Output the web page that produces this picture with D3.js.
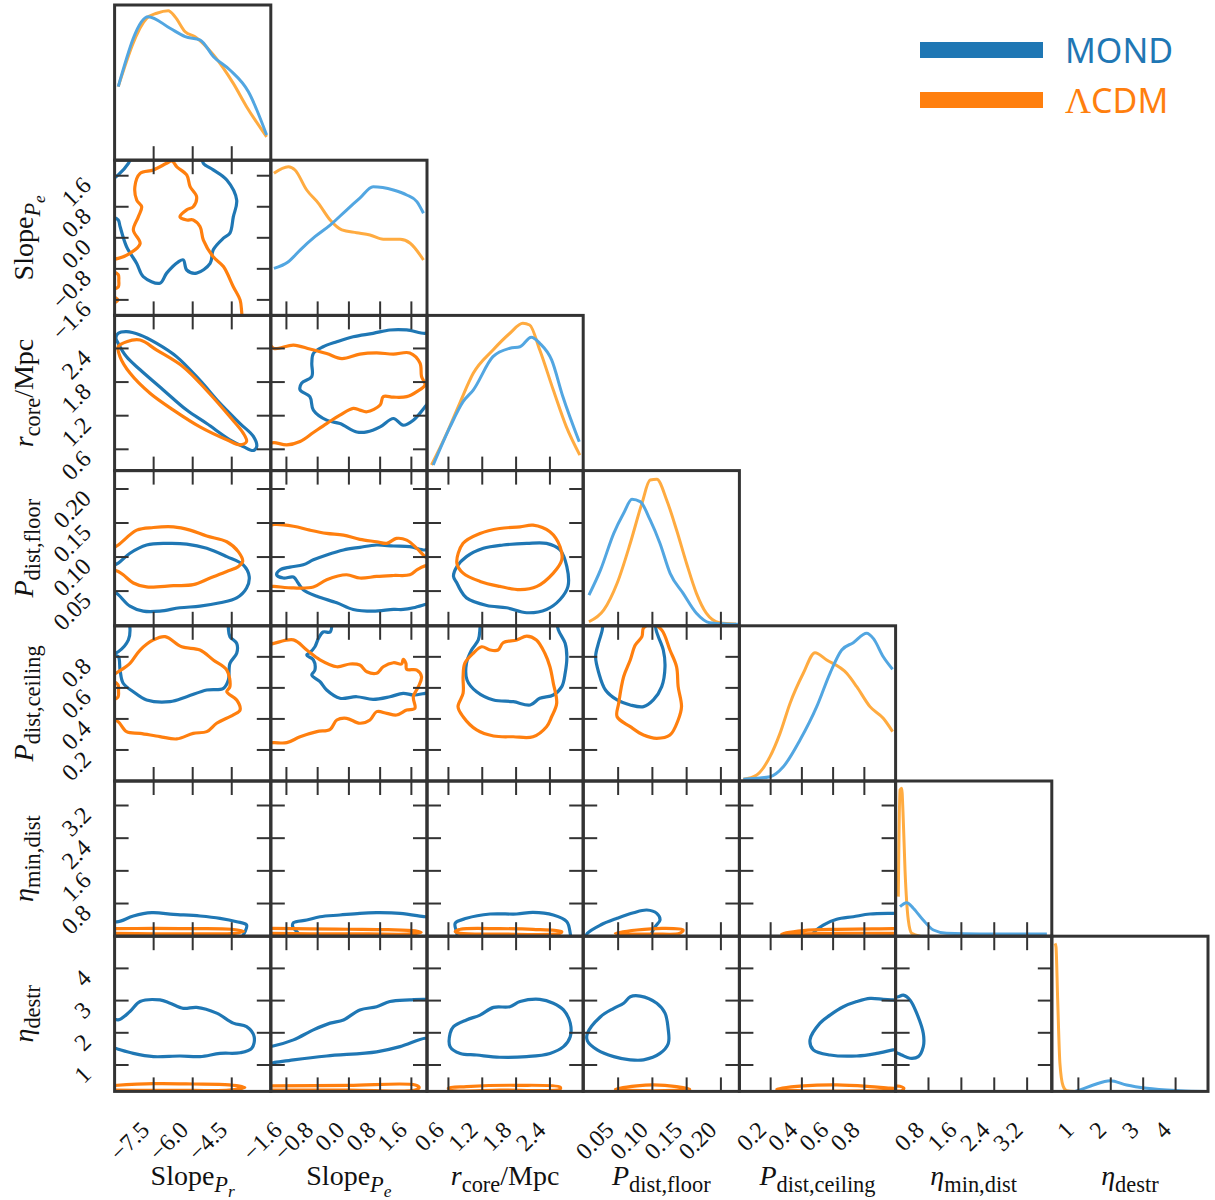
<!DOCTYPE html>
<html><head><meta charset="utf-8">
<script src="https://cdn.jsdelivr.net/npm/d3@7"></script>
<style>body{margin:0;background:#fff}</style>
</head><body><svg id="c" width="1215" height="1200"></svg>
<script>
// ---------------- DATA ----------------
const paramRanges = [[-9,-3],[-2,2],[0.22,2.99],[-0.001,0.227],[0,1],[0,3.8],[0.18,5.0]];
const paramTicks = [[-7.5,-6.0,-4.5],[-1.6,-0.8,0,0.8,1.6],[0.6,1.2,1.8,2.4],[0.05,0.10,0.15,0.20],[0.2,0.4,0.6,0.8],[0.8,1.6,2.4,3.2],[1,2,3,4]];
const tickLabels = [["−7.5","−6.0","−4.5"],["−1.6","−0.8","0.0","0.8","1.6"],["0.6","1.2","1.8","2.4"],["0.05","0.10","0.15","0.20"],["0.2","0.4","0.6","0.8"],["0.8","1.6","2.4","3.2"],["1","2","3","4"]];
const seriesNames = ["MOND","ΛCDM"];

// 1D marginal densities (relative units) [value, density]
const mondDiag0 = [[-8.86,0.474],[-7.71,0.925],[-6.87,0.85],[-6.29,0.796],[-5.71,0.774],[-5.20,0.667],[-4.57,0.581],[-3.86,0.441],[-3.16,0.162]];
const lcdmDiag0 = [[-8.86,0.474],[-7.77,0.914],[-7.38,0.947],[-6.94,0.963],[-6.68,0.925],[-6.29,0.828],[-5.91,0.796],[-5.20,0.678],[-4.44,0.495],[-3.93,0.345],[-3.16,0.151]];
const mondDiag1 = [[-1.92,0.303],[-1.55,0.346],[-1.25,0.421],[-0.87,0.507],[-0.48,0.582],[-0.06,0.679],[0.28,0.755],[0.62,0.829],[1.14,0.808],[1.48,0.776],[1.74,0.733],[1.91,0.658]];
const lcdmDiag1 = [[-1.92,0.916],[-1.55,0.958],[-1.38,0.937],[-1.08,0.808],[-0.78,0.722],[-0.48,0.615],[-0.18,0.551],[0.20,0.533],[0.54,0.518],[0.88,0.49],[1.31,0.49],[1.57,0.465],[1.91,0.357]];
const mondDiag2 = [[0.33,0.036],[0.63,0.283],[0.86,0.444],[1.04,0.519],[1.39,0.734],[1.69,0.788],[1.87,0.798],[2.07,0.859],[2.22,0.82],[2.43,0.713],[2.63,0.476],[2.92,0.186]];
const lcdmDiag2 = [[0.30,0.036],[0.57,0.24],[0.80,0.434],[1.04,0.627],[1.39,0.777],[1.69,0.885],[1.92,0.949],[2.04,0.938],[2.22,0.777],[2.46,0.519],[2.69,0.283],[2.93,0.10]];
const mondDiag3 = [[0.0074,0.198],[0.0243,0.36],[0.0436,0.596],[0.058,0.725],[0.0702,0.815],[0.0822,0.80],[0.0967,0.682],[0.111,0.532],[0.1259,0.338],[0.1449,0.209],[0.1643,0.081],[0.1835,0.02],[0.2077,0.012],[0.225,0.01]];
const lcdmDiag3 = [[0.0074,0.026],[0.0291,0.102],[0.0485,0.274],[0.0677,0.532],[0.0847,0.789],[0.0967,0.939],[0.1064,0.944],[0.1208,0.811],[0.1353,0.617],[0.1498,0.403],[0.1643,0.209],[0.1787,0.081],[0.198,0.02],[0.2221,0.012]];
const mondDiag4 = [[0.025,0.011],[0.196,0.028],[0.281,0.092],[0.388,0.264],[0.495,0.479],[0.58,0.694],[0.655,0.844],[0.729,0.891],[0.815,0.952],[0.857,0.919],[0.921,0.801],[0.981,0.72]];
const lcdmDiag4 = [[0.025,0.011],[0.111,0.039],[0.196,0.157],[0.26,0.307],[0.324,0.50],[0.409,0.694],[0.484,0.827],[0.559,0.78],[0.687,0.694],[0.751,0.608],[0.836,0.479],[0.921,0.404],[0.981,0.318]];
const mondDiag5 = [[0.107,0.19],[0.27,0.216],[0.43,0.18],[0.67,0.104],[0.92,0.04],[1.24,0.019],[2.05,0.014],[3.68,0.014]];
const lcdmDiag5 = [[0.066,0.255],[0.107,0.942],[0.148,0.953],[0.18,0.8],[0.229,0.427],[0.309,0.104],[0.39,0.019],[0.6,0.0]];
const mondDiag6 = [[0.9,0.0],[1.05,0.009],[1.46,0.041],[1.98,0.069],[2.49,0.041],[3.11,0.02],[4.14,0.005],[4.95,0.0]];
const lcdmDiag6 = [[0.28,0.954],[0.31,0.93],[0.36,0.6],[0.43,0.182],[0.53,0.034],[0.64,0.005],[0.9,0.0]];

// 2D credible contours: lists of pieces, each piece a list of [x value, y value]
const c10_mond = [[[-5.65,2.1],[-5.59,1.92],[-5.21,1.75],[-4.69,1.49],[-4.31,0.97],[-4.44,0.54],[-4.57,0.12],[-4.82,-0.01],[-5.21,-0.31],[-5.33,-0.66],[-5.85,-0.91],[-6.23,-0.83],[-6.36,-0.57],[-6.55,-0.62],[-7.0,-0.91],[-7.26,-1.17],[-7.90,-1.0],[-8.15,-0.66],[-8.54,-0.23],[-8.79,0.29],[-8.86,0.46],[-9.1,0.55]],
  [[-9.1,1.5],[-8.86,1.62],[-8.47,1.92],[-8.35,2.1]]];
const c10_lcdm = [[[-9.1,-0.55],[-8.86,-0.53],[-8.41,-0.40],[-8.02,-0.15],[-8.28,0.20],[-8.09,0.54],[-7.96,0.80],[-8.15,0.97],[-8.22,1.32],[-8.02,1.66],[-7.51,1.75],[-7.0,1.92],[-6.8,1.98],[-6.61,1.83],[-6.23,1.62],[-6.10,1.32],[-5.85,1.06],[-5.98,0.80],[-6.23,0.72],[-6.49,0.54],[-6.23,0.46],[-5.98,0.46],[-5.72,0.29],[-5.59,-0.06],[-5.21,-0.49],[-4.82,-0.74],[-4.44,-1.26],[-4.18,-1.60],[-4.12,-1.90],[-4.1,-2.1]],
  [[-9.1,-0.85],[-8.86,-0.95],[-8.84,-1.1],[-8.86,-1.27],[-9.1,-1.33]],
  [[-9.1,-1.5],[-8.87,-1.6],[-9.1,-1.7]]];
const c20_mond = [[[-8.86,2.67],[-8.54,2.70],[-8.02,2.64],[-7.38,2.49],[-6.61,2.25],[-5.72,1.83],[-4.95,1.42],[-4.18,1.06],[-3.67,0.83],[-3.54,0.65],[-3.67,0.58],[-4.06,0.65],[-4.57,0.77],[-5.46,1.06],[-6.23,1.30],[-7.13,1.66],[-8.02,2.02],[-8.54,2.25],[-8.86,2.49],[-8.95,2.59]]];
const c20_lcdm = [[[-8.86,2.43],[-8.54,2.52],[-8.02,2.55],[-7.38,2.37],[-6.36,2.07],[-5.46,1.65],[-4.57,1.18],[-4.06,0.89],[-3.93,0.74],[-4.18,0.68],[-4.69,0.77],[-5.72,1.0],[-6.74,1.30],[-7.64,1.60],[-8.41,1.96],[-8.79,2.25]]];
const c30_mond = [[[-9.1,0.087],[-8.86,0.091],[-8.41,0.1056],[-7.77,0.1177],[-7.0,0.1201],[-6.23,0.1191],[-5.46,0.1129],[-4.69,0.1006],[-4.06,0.0885],[-3.83,0.0715],[-3.93,0.0546],[-4.31,0.04],[-4.95,0.0328],[-5.72,0.0278],[-6.49,0.0255],[-7.26,0.0205],[-7.90,0.0205],[-8.41,0.0278],[-8.86,0.0448],[-9.1,0.052]]];
const c30_lcdm = [[[-9.1,0.112],[-8.86,0.1177],[-8.15,0.1395],[-7.51,0.1434],[-6.74,0.1443],[-6.10,0.1395],[-5.46,0.1308],[-4.69,0.1225],[-4.25,0.1079],[-4.08,0.0933],[-4.25,0.086],[-4.69,0.0788],[-5.33,0.0692],[-5.98,0.0594],[-6.74,0.058],[-7.77,0.0561],[-8.28,0.0619],[-8.67,0.074],[-8.86,0.0788],[-9.1,0.082]]];
const c40_mond = [[[-9.1,0.81],[-8.86,0.801],[-8.79,0.715],[-8.67,0.63],[-8.28,0.575],[-7.77,0.522],[-6.87,0.511],[-6.23,0.543],[-5.46,0.586],[-4.82,0.597],[-4.63,0.651],[-4.57,0.758],[-4.31,0.823],[-4.31,0.887],[-4.57,0.93],[-4.63,0.984],[-4.62,1.05]],
  [[-8.5,1.05],[-8.41,0.984],[-8.47,0.909],[-8.86,0.833],[-9.1,0.82]]];
const c40_lcdm = [[[-9.1,0.68],[-8.86,0.704],[-8.41,0.758],[-8.02,0.844],[-7.51,0.909],[-7.06,0.93],[-6.42,0.865],[-5.72,0.844],[-5.21,0.78],[-4.69,0.715],[-4.57,0.608],[-4.69,0.575],[-4.31,0.522],[-4.18,0.458],[-4.44,0.426],[-5.08,0.372],[-5.46,0.318],[-5.98,0.307],[-6.61,0.271],[-7.26,0.286],[-8.02,0.307],[-8.54,0.318],[-8.86,0.382],[-9.1,0.40]],
  [[-9.1,0.65],[-8.87,0.62],[-8.85,0.58],[-8.87,0.54],[-9.1,0.52]]];
const c50_mond = [[[-9.1,0.37],[-8.86,0.355],[-8.28,0.494],[-7.57,0.575],[-6.74,0.536],[-5.72,0.494],[-4.95,0.438],[-4.31,0.355],[-3.93,0.274],[-3.99,0.11],[-4.06,0.029],[-4.1,-0.05]]];
const c50_lcdm = [[[-9.1,0.185],[-7.5,0.19],[-6.0,0.185],[-4.5,0.17],[-4.05,0.12],[-4.4,0.07],[-6.0,0.06],[-7.5,0.06],[-9.1,0.07]]];
const c60_mond = [[[-9.1,2.48],[-8.86,2.40],[-8.41,2.66],[-8.02,2.97],[-7.26,3.02],[-6.87,2.92],[-6.36,2.76],[-5.85,2.79],[-5.08,2.61],[-4.44,2.30],[-3.93,2.19],[-3.64,1.88],[-3.73,1.52],[-4.18,1.38],[-4.95,1.36],[-5.72,1.26],[-6.49,1.28],[-7.51,1.26],[-8.28,1.36],[-8.86,1.49],[-9.1,1.55]]];
const c60_lcdm = [[[-9.1,0.36],[-7.5,0.42],[-6.0,0.41],[-4.6,0.38],[-4.0,0.30],[-4.6,0.22],[-6.0,0.21],[-7.5,0.21],[-9.1,0.22]]];
const c21_mond = [[[2.05,2.70],[1.95,2.67],[1.48,2.73],[1.05,2.73],[0.62,2.67],[0.11,2.61],[-0.31,2.52],[-0.66,2.43],[-0.91,2.31],[-0.95,2.14],[-0.95,1.90],[-1.21,1.78],[-1.25,1.66],[-1.0,1.54],[-0.91,1.30],[-0.57,1.12],[-0.23,1.06],[0.20,0.91],[0.46,0.91],[0.80,1.0],[1.14,1.15],[1.39,1.03],[1.65,1.12],[1.95,1.36],[2.05,1.45]]];
const c21_lcdm = [[[-2.05,2.51],[-1.92,2.40],[-1.42,2.46],[-1.0,2.39],[-0.57,2.31],[-0.18,2.22],[0.28,2.30],[0.71,2.32],[1.14,2.30],[1.56,2.32],[1.82,2.14],[1.86,1.90],[1.95,1.75],[1.74,1.63],[1.48,1.54],[1.14,1.53],[0.88,1.54],[0.80,1.39],[0.46,1.27],[0.28,1.30],[0.11,1.33],[-0.23,1.21],[-0.57,1.06],[-0.91,0.90],[-1.25,0.74],[-1.59,0.68],[-1.92,0.72],[-2.05,0.70]]];
const c31_mond = [[[2.05,0.113],[1.95,0.1104],[1.56,0.1152],[1.14,0.1162],[0.71,0.1177],[0.28,0.1143],[-0.14,0.1104],[-0.57,0.1031],[-0.91,0.0959],[-1.17,0.0886],[-1.51,0.0852],[-1.76,0.0813],[-1.85,0.074],[-1.68,0.0692],[-1.42,0.0706],[-1.30,0.0619],[-1.17,0.0521],[-0.82,0.0424],[-0.31,0.0328],[0.11,0.023],[0.62,0.0205],[1.14,0.023],[1.39,0.023],[1.65,0.0255],[1.95,0.0303],[2.05,0.032]]];
const c31_lcdm = [[[-2.05,0.145],[-1.92,0.1478],[-1.42,0.1453],[-1.0,0.1395],[-0.57,0.1347],[-0.14,0.1322],[0.28,0.126],[0.71,0.1225],[0.97,0.1201],[1.22,0.1274],[1.48,0.1249],[1.74,0.1128],[1.95,0.1006],[2.1,0.095],[2.1,0.088],[1.95,0.087],[1.74,0.0812],[1.56,0.0739],[1.14,0.0729],[0.71,0.0715],[0.28,0.0692],[-0.06,0.074],[-0.57,0.0667],[-0.91,0.056],[-1.42,0.0546],[-1.92,0.0569],[-2.05,0.057]]];
const c32_mond = [[[0.69,0.0715],[0.75,0.086],[0.92,0.1006],[1.22,0.1128],[1.57,0.1177],[1.99,0.1201],[2.34,0.1201],[2.58,0.1104],[2.70,0.086],[2.72,0.0569],[2.58,0.0376],[2.34,0.023],[1.99,0.0182],[1.63,0.0255],[1.28,0.0288],[0.92,0.04],[0.81,0.0521],[0.75,0.0619]]];
const c32_lcdm = [[[0.75,0.091],[0.86,0.1201],[1.16,0.1347],[1.51,0.142],[1.87,0.1443],[2.10,0.1468],[2.40,0.137],[2.58,0.1152],[2.61,0.0958],[2.46,0.0764],[2.17,0.0569],[1.87,0.0521],[1.51,0.0569],[1.16,0.0642],[0.86,0.0764]]];
const c41_mond = [[[-0.44,1.05],[-0.48,0.96],[-0.66,0.96],[-0.78,0.919],[-0.87,0.865],[-1.0,0.827],[-1.08,0.812],[-0.91,0.78],[-0.87,0.715],[-0.95,0.683],[-0.74,0.64],[-0.57,0.586],[-0.23,0.533],[0.20,0.543],[0.62,0.526],[1.05,0.543],[1.39,0.565],[1.65,0.554],[1.95,0.565],[2.05,0.57]]];
const c41_lcdm = [[[-2.05,0.88],[-1.92,0.887],[-1.42,0.909],[-1.08,0.844],[-0.74,0.78],[-0.31,0.736],[0.03,0.754],[0.28,0.747],[0.46,0.704],[0.71,0.694],[0.88,0.736],[1.14,0.762],[1.35,0.754],[1.39,0.784],[1.46,0.758],[1.48,0.72],[1.74,0.715],[1.86,0.672],[1.78,0.608],[1.65,0.543],[1.69,0.468],[1.48,0.457],[1.22,0.425],[0.97,0.436],[0.71,0.447],[0.54,0.393],[0.28,0.372],[-0.06,0.404],[-0.31,0.393],[-0.48,0.333],[-0.82,0.318],[-1.25,0.285],[-1.59,0.247],[-1.92,0.247],[-2.05,0.245]]];
const c42_mond = [[[1.17,1.05],[1.16,0.984],[1.13,0.909],[1.01,0.844],[0.92,0.758],[0.93,0.651],[1.10,0.575],[1.40,0.522],[1.75,0.511],[2.05,0.49],[2.22,0.533],[2.46,0.554],[2.61,0.608],[2.67,0.694],[2.70,0.801],[2.67,0.887],[2.55,0.973],[2.51,1.05]]];
const c42_lcdm = [[[0.86,0.672],[0.89,0.758],[1.04,0.823],[1.19,0.865],[1.34,0.844],[1.48,0.844],[1.57,0.891],[1.81,0.909],[1.99,0.934],[2.16,0.909],[2.31,0.823],[2.40,0.736],[2.46,0.63],[2.52,0.501],[2.43,0.414],[2.34,0.35],[2.10,0.285],[1.75,0.285],[1.40,0.29],[1.10,0.329],[0.86,0.414],[0.77,0.479],[0.86,0.565]]];
const c43_mond = [[[0.028,1.05],[0.0268,0.973],[0.0219,0.898],[0.0171,0.801],[0.0219,0.694],[0.0315,0.586],[0.0485,0.522],[0.0677,0.49],[0.087,0.479],[0.1014,0.522],[0.1136,0.608],[0.1184,0.736],[0.1159,0.844],[0.1087,0.93],[0.1054,0.973],[0.104,1.05]]];
const c43_lcdm = [[[0.0485,0.414],[0.0508,0.501],[0.058,0.672],[0.0677,0.78],[0.075,0.876],[0.0847,0.93],[0.087,0.986],[0.0996,1.012],[0.1136,0.973],[0.1256,0.844],[0.1353,0.736],[0.1376,0.608],[0.1425,0.479],[0.1376,0.393],[0.1256,0.296],[0.1064,0.275],[0.087,0.296],[0.0677,0.35]]];
const c51_mond = [[[-1.25,-0.05],[-1.30,0.071],[-1.44,0.232],[-1.42,0.33],[-1.08,0.396],[-0.74,0.477],[-0.23,0.519],[0.28,0.561],[0.71,0.575],[1.31,0.561],[1.95,0.477],[2.05,0.47]]];
const c51_lcdm = [[[-2.05,0.19],[-1.0,0.18],[0.0,0.17],[1.0,0.16],[1.7,0.13],[1.85,0.09],[1.6,0.055],[0.5,0.055],[-1.0,0.06],[-2.05,0.07]]];
const c52_mond = [[[0.76,-0.05],[0.75,0.071],[0.72,0.316],[0.92,0.438],[1.34,0.543],[1.81,0.543],[2.10,0.585],[2.46,0.519],[2.70,0.355],[2.76,0.071],[2.77,-0.05]]];
const c52_lcdm = [[[0.72,0.11],[0.81,0.169],[1.51,0.184],[2.10,0.169],[2.61,0.11],[2.58,0.071],[1.51,0.054],[0.81,0.071]]];
const c53_mond = [[[0.002,-0.05],[0.0051,0.071],[0.0243,0.274],[0.0485,0.438],[0.0725,0.575],[0.0919,0.641],[0.1064,0.56],[0.1111,0.396],[0.1039,0.232],[0.0991,0.071],[0.098,-0.05]]];
const c53_lcdm = [[[0.046,0.071],[0.0774,0.152],[0.1159,0.193],[0.1449,0.152],[0.1401,0.071],[0.1014,0.054],[0.0533,0.054]]];
const c54_mond = [[[0.47,-0.05],[0.473,0.071],[0.537,0.274],[0.623,0.414],[0.729,0.477],[0.836,0.543],[0.985,0.561],[1.02,0.565]]];
const c54_lcdm = [[[1.02,0.19],[0.985,0.184],[0.623,0.169],[0.409,0.135],[0.271,0.054],[0.409,0.06],[0.623,0.071],[0.985,0.071],[1.02,0.07]]];
const c61_mond = [[[-2.05,1.57],[-1.94,1.59],[-1.42,1.78],[-0.91,2.09],[-0.48,2.30],[-0.14,2.40],[0.28,2.71],[0.71,2.81],[1.05,2.97],[1.56,3.02],[1.95,3.04],[2.1,3.0],[2.1,1.8],[1.95,1.83],[1.31,1.57],[0.71,1.41],[-0.57,1.28],[-1.42,1.16],[-1.94,1.07],[-2.05,1.06]]];
const c61_lcdm = [[[-2.05,0.35],[0.0,0.37],[1.7,0.38],[1.8,0.3],[1.7,0.22],[0.0,0.22],[-2.05,0.22]]];
const c62_mond = [[[0.63,1.98],[0.69,2.19],[0.92,2.40],[1.16,2.55],[1.40,2.79],[1.69,2.81],[1.87,2.97],[2.22,3.04],[2.46,2.92],[2.64,2.71],[2.76,2.30],[2.76,1.88],[2.64,1.57],[2.40,1.36],[1.99,1.26],[1.51,1.24],[1.10,1.31],[0.81,1.36],[0.63,1.57]]];
const c62_lcdm = [[[0.60,0.28],[0.92,0.33],[1.81,0.37],[2.58,0.31],[2.58,0.25],[1.51,0.22],[0.63,0.22]]];
const c63_mond = [[[0.0051,1.98],[0.0243,2.50],[0.0436,2.76],[0.058,2.92],[0.0677,3.12],[0.0822,3.14],[0.1064,2.92],[0.1184,2.61],[0.1232,2.09],[0.1232,1.67],[0.1111,1.36],[0.087,1.16],[0.0677,1.16],[0.0436,1.26],[0.0195,1.47],[0.0051,1.75]]];
const c63_lcdm = [[[0.046,0.25],[0.0774,0.35],[0.1014,0.38],[0.1353,0.33],[0.1546,0.25],[0.1014,0.20]]];
const c64_mond = [[[1.02,3.0],[0.985,3.02],[0.921,3.04],[0.836,3.07],[0.751,2.97],[0.665,2.81],[0.58,2.55],[0.516,2.30],[0.452,1.78],[0.473,1.47],[0.58,1.31],[0.751,1.28],[0.879,1.36],[0.985,1.47],[1.02,1.49]]];
const c64_lcdm = [[[1.02,0.28],[0.964,0.28],[0.836,0.33],[0.623,0.38],[0.409,0.35],[0.239,0.25],[0.409,0.2],[0.964,0.2],[1.02,0.2]]];
const c65_mond = [[[-0.05,3.1],[0.066,3.12],[0.187,3.17],[0.35,3.02],[0.513,2.61],[0.674,1.98],[0.674,1.57],[0.552,1.26],[0.35,1.21],[0.148,1.31],[0.066,1.36],[-0.05,1.4]]];
const c65_lcdm = [[[-0.05,0.35],[0.1,0.34],[0.2,0.28],[0.15,0.2],[-0.05,0.2]]];

// ---------------- LAYOUT ----------------
const gridLeft = 114.6, gridTop = 5, cellW = 156.2, cellH = 155.2, N = 7;
const mondColor = "#1f77b4", lcdmColor = "#ff7f0e";
const mondLight = "#52a6e1", lcdmLight = "#ffab40";
const frameColor = "#333333";

const diagData = [[mondDiag0,lcdmDiag0],[mondDiag1,lcdmDiag1],[mondDiag2,lcdmDiag2],[mondDiag3,lcdmDiag3],[mondDiag4,lcdmDiag4],[mondDiag5,lcdmDiag5],[mondDiag6,lcdmDiag6]];
const contours = {
 "1,0":[c10_mond,c10_lcdm],"2,0":[c20_mond,c20_lcdm],"3,0":[c30_mond,c30_lcdm],"4,0":[c40_mond,c40_lcdm],"5,0":[c50_mond,c50_lcdm],"6,0":[c60_mond,c60_lcdm],
 "2,1":[c21_mond,c21_lcdm],"3,1":[c31_mond,c31_lcdm],"4,1":[c41_mond,c41_lcdm],"5,1":[c51_mond,c51_lcdm],"6,1":[c61_mond,c61_lcdm],
 "3,2":[c32_mond,c32_lcdm],"4,2":[c42_mond,c42_lcdm],"5,2":[c52_mond,c52_lcdm],"6,2":[c62_mond,c62_lcdm],
 "4,3":[c43_mond,c43_lcdm],"5,3":[c53_mond,c53_lcdm],"6,3":[c63_mond,c63_lcdm],
 "5,4":[c54_mond,c54_lcdm],"6,4":[c64_mond,c64_lcdm],"6,5":[c65_mond,c65_lcdm]
};

const svg = d3.select("#c");
const xs = paramRanges.map((r,j)=>d3.scaleLinear().domain(r).range([gridLeft+j*cellW, gridLeft+(j+1)*cellW]));
const ys = paramRanges.map((r,i)=>d3.scaleLinear().domain(r).range([gridTop+(i+1)*cellH, gridTop+i*cellH]));
const defs = svg.append("defs");
const plotLayer = svg.append("g");
const axisLayer = svg.append("g");

function clipFor(i,j){
  const id = `clip${i}_${j}`;
  defs.append("clipPath").attr("id",id).append("rect")
    .attr("x",gridLeft+j*cellW).attr("y",gridTop+i*cellH).attr("width",cellW).attr("height",cellH);
  return `url(#${id})`;
}

for(let i=0;i<N;i++){
  for(let j=0;j<=i;j++){
    const x0 = gridLeft+j*cellW, y0 = gridTop+i*cellH;
    const g = plotLayer.append("g").attr("clip-path", clipFor(i,j));
    const xsc = xs[j];
    if(i===j){
      const yd = d3.scaleLinear().domain([0,1]).range([y0+cellH, y0]);
      const line = d3.line().x(d=>xsc(d[0])).y(d=>yd(d[1])).curve(d3.curveMonotoneX);
      const [m,l] = diagData[i];
      g.append("path").attr("d",line(l)).attr("fill","none").attr("stroke",lcdmLight).attr("stroke-width",3);
      g.append("path").attr("d",line(m)).attr("fill","none").attr("stroke",mondLight).attr("stroke-width",3);
    } else {
      const ysc = ys[i];
      const dx = paramRanges[j], dy = paramRanges[i];
      const [m,l] = contours[`${i},${j}`];
      [[m,mondColor],[l,lcdmColor]].forEach(([pieces,col])=>{
        pieces.forEach(p=>{
          const inside = p[0][0]>=dx[0] && p[0][0]<=dx[1] && p[0][1]>=dy[0] && p[0][1]<=dy[1];
          const curve = inside ? d3.curveCatmullRomClosed.alpha(0.5) : d3.curveCatmullRom.alpha(0.5);
          const line = d3.line().x(d=>xsc(d[0])).y(d=>ysc(d[1])).curve(curve);
          g.append("path").attr("d",line(p)).attr("fill","none").attr("stroke",col)
            .attr("stroke-width",3.2).attr("stroke-linejoin","round");
        });
      });
    }
    // ticks
    const tl = 14;
    const tg = axisLayer.append("g").attr("stroke",frameColor).attr("stroke-width",2);
    paramTicks[j].forEach(t=>{
      const x = xsc(t);
      tg.append("line").attr("x1",x).attr("x2",x).attr("y1",y0+cellH).attr("y2",y0+cellH-tl);
      if(i!==j) tg.append("line").attr("x1",x).attr("x2",x).attr("y1",y0).attr("y2",y0+tl);
    });
    if(i!==j){
      paramTicks[i].forEach(t=>{
        const y = ys[i](t);
        tg.append("line").attr("x1",x0).attr("x2",x0+tl).attr("y1",y).attr("y2",y);
        tg.append("line").attr("x1",x0+cellW).attr("x2",x0+cellW-tl).attr("y1",y).attr("y2",y);
      });
    }
    axisLayer.append("rect").attr("x",x0).attr("y",y0).attr("width",cellW).attr("height",cellH)
      .attr("fill","none").attr("stroke",frameColor).attr("stroke-width",3);
  }
}

// tick labels
const tickFont = "'Liberation Serif', 'DejaVu Serif', serif";
const tickSize = 24;
const bottomY = gridTop + N*cellH;
for(let j=0;j<N;j++){
  paramTicks[j].forEach((t,k)=>{
    const px = xs[j](t) - 3, py = bottomY + 40;
    svg.append("text").attr("x",px).attr("y",py).attr("text-anchor","end")
      .attr("transform",`rotate(-45 ${px} ${py})`)
      .attr("font-family",tickFont).attr("font-size",tickSize).attr("fill","#111").text(tickLabels[j][k]);
  });
}
for(let i=1;i<N;i++){
  paramTicks[i].forEach((t,k)=>{
    const px = gridLeft - 22, py = ys[i](t) + 11;
    svg.append("text").attr("x",px).attr("y",py).attr("text-anchor","end")
      .attr("transform",`rotate(-45 ${px} ${py})`)
      .attr("font-family",tickFont).attr("font-size",tickSize).attr("fill","#111").text(tickLabels[i][k]);
  });
}

// axis titles: [text, italic, level]
const axisTitles = [
  [["Slope",false,0],["P",true,1],["r",true,2]],
  [["Slope",false,0],["P",true,1],["e",true,2]],
  [["r",true,0],["core",false,1],["/Mpc",false,0]],
  [["P",true,0],["dist,floor",false,1]],
  [["P",true,0],["dist,ceiling",false,1]],
  [["η",true,0],["min,dist",false,1]],
  [["η",true,0],["destr",false,1]]
];
const titleSize = 28;
const levelSize = [titleSize, titleSize*0.8, titleSize*0.62];
const levelShift = [0, 7, 12];
function writeTitle(sel, parts){
  let cur = 0;
  parts.forEach(([txt,ital,lvl])=>{
    const dy = levelShift[lvl]-levelShift[cur];
    sel.append("tspan").attr("dy",dy).attr("font-size",levelSize[lvl])
      .attr("font-style",ital?"italic":"normal").text(txt);
    cur = lvl;
  });
}
for(let j=0;j<N;j++){
  const cx = gridLeft + (j+0.5)*cellW;
  const t = svg.append("text").attr("x",cx).attr("y",1185).attr("text-anchor","middle")
    .attr("font-family",tickFont).attr("fill","#111");
  writeTitle(t, axisTitles[j]);
}
for(let i=1;i<N;i++){
  const cy = gridTop + (i+0.5)*cellH;
  const t = svg.append("text").attr("x",0).attr("y",0).attr("text-anchor","middle")
    .attr("transform",`translate(33,${cy}) rotate(-90)`)
    .attr("font-family",tickFont).attr("fill","#111");
  writeTitle(t, axisTitles[i]);
}

// legend
const legendColors = [mondColor, lcdmColor];
const legendY = [50, 100];
seriesNames.forEach((nm,k)=>{
  svg.append("line").attr("x1",920).attr("x2",1043).attr("y1",legendY[k]).attr("y2",legendY[k])
    .attr("stroke",legendColors[k]).attr("stroke-width",16);
  const t = svg.append("text").attr("x",1065).attr("y",legendY[k]+12.5)
    .attr("font-family","'Noto Sans','Open Sans',sans-serif").attr("font-size",34)
    .attr("fill",legendColors[k]);
  if(nm.startsWith("Λ")){
    t.append("tspan").attr("font-family","'Liberation Serif',serif").attr("font-size",36).text("Λ");
    t.append("tspan").text(nm.slice(1));
  } else t.text(nm);
});
</script>
</body></html>
